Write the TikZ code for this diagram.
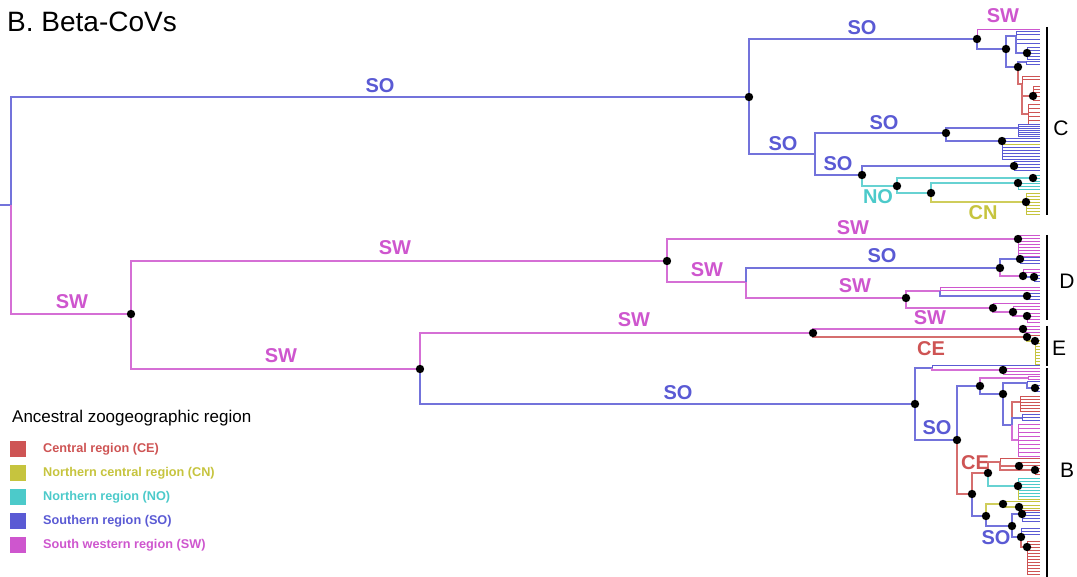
\documentclass[tikz,border=0pt]{standalone}
\usepackage{fontspec}
\setmainfont{Liberation Sans}
\definecolor{cCE}{RGB}{206,84,84}
\definecolor{cCN}{RGB}{198,196,62}
\definecolor{cNO}{RGB}{76,202,202}
\definecolor{cSO}{RGB}{90,90,212}
\definecolor{cSW}{RGB}{206,86,206}
\tikzset{
  br/.style={line width=1.2pt},
  lf/.style={line width=.6pt},
  lab/.style={font=\fontsize{20}{20}\selectfont\bfseries,inner sep=0pt},
  clade/.style={font=\fontsize{21}{21}\selectfont,inner sep=0pt},
  key/.style={minimum size=16pt,inner sep=0pt},
}
\begin{document}
\begin{tikzpicture}[x=1pt,y=-1pt]
  \useasboundingbox (0,0) rectangle (1077,577);
  \node[anchor=west,inner sep=0pt,font=\fontsize{28}{28}\selectfont] (title) at (7,22) {B. Beta-CoVs};
  \foreach \n/\x/\y in {
    r0/0/205, r/11/205, a/749/97, b/131/314,
    c1/977/39, c2/1006/49, c3/1016/36, c4/1027/53, c5/1018/67, c6/1026/62,
    c7/1022/84, c8/1033/96, c9/1028/114, c10/815/154, c11/946/133, c12/1018/128,
    c13/1002/141, c14/862/175, c15/1014/166, c16/897/186, c17/1033/178,
    c18/931/193, c19/1018/183, c20/1026/202,
    d1/667/261, d2/1018/239, d3/746/282, d4/1000/268, d5/1020/259, d6/1023/276,
    d7/1034/277, d8/906/298, d9/940/291, d10/1027/296, d11/993/308,
    d12/1013/312, d13/1027/316,
    e0/420/369, e1/813/333, e2/1023/329, e3/1027/337, e4/1035/341,
    f1/915/404, f2/932/368, f3/1003/370, f4/957/440, f5/980/386, f6/1028/378,
    f7/1003/394, f8/1027/383, f9/1035/388, f10/1012/425, f11/1020/402,
    f12/1022/418, f13/1018/440, f14/972/494, f15/988/473, f16/1000/462,
    f17/1019/466, f18/1035/470, f19/1018/486, f20/986/516, f21/1003/504,
    f22/1019/507, f23/1012/526, f24/1022/514, f25/1021/537, f26/1027/547}
    \coordinate (\n) at (\x,\y);
  \foreach \p/\col/\ys in {
    c1/cSW/{29}, c3/cSO/{31,34,39,43}, c4/cSO/{47,50,53,56,59}, c6/cSO/{61,64},
    c7/cCE/{76,79}, c8/cCE/{86,89,92,96,100}, c9/cCE/{104,108,112,116,120,124},
    c12/cSO/{124,126,128,130,132,134,136}, c13/cSO/{138,141,147,150,153,156,159},
    c13/cCN/{144}, c15/cSO/{161,164,167,170}, c17/cNO/{175,178,181},
    c19/cNO/{183,186,189}, c20/cCN/{193,196,199,202,205,208,211,214},
    d2/cSW/{235,238,241,244,247,250,253,256}, d5/cSO/{257,260,263},
    d6/cSW/{269,272}, d7/cSO/{275,278,281}, d9/cSW/{287,290},
    d10/cSO/{293,296,299}, d11/cSW/{303}, d12/cSW/{306,309},
    d13/cSW/{313,316,319,322},
    e2/cSW/{326,329,332}, e3/cCE/{335}, e4/cCN/{340,343,346,349,352,355,358,361,364},
    f2/cSO/{365}, f3/cSW/{368,371,374}, f6/cSW/{376,379}, f8/cSO/{381},
    f9/cSO/{385,388,391}, f11/cCE/{396,399,402,405,408,411}, f12/cSO/{414,417,420},
    f13/cSW/{424,428,432,436,440,444,448,452,456}, f16/cCE/{458}, f17/cCE/{462,465},
    f18/cCE/{468,471,474}, f19/cNO/{478,481,484,487,490,493,496}, f19/cCN/{499},
    f21/cCN/{501}, f22/cCN/{505,508}, f22/cCE/{510}, f24/cSO/{512,515,518,521},
    f25/cSO/{528,531,534},
    f26/cCE/{541,544,547,550,553,556,559,562,565,568,571,574}}
  {
    \foreach \y in \ys {
      \coordinate (tip) at (1040,\y);
      \draw[lf,\col] (\p) |- (tip);
    }
  }
  \draw[br,cSO!85] (r0) -- (r);
  \foreach \p/\c/\col in {
    r/a/cSO, r/b/cSW, a/c1/cSO, a/c10/cSO, c1/c2/cSO, c2/c3/cSO, c3/c4/cSO,
    c2/c5/cSO, c5/c6/cSO, c5/c7/cCE, c7/c8/cCE, c7/c9/cCE, c10/c11/cSO,
    c10/c14/cSO, c11/c12/cSO, c11/c13/cSO, c14/c15/cSO, c14/c16/cNO,
    c16/c17/cNO, c16/c18/cNO, c18/c19/cNO, c18/c20/cCN,
    b/d1/cSW, d1/d2/cSW, d1/d3/cSW, d3/d4/cSO, d4/d5/cSO, d4/d6/cSW,
    d6/d7/cSO, d3/d8/cSW, d8/d9/cSW, d9/d10/cSO, d8/d11/cSW, d11/d12/cSW,
    d12/d13/cSW,
    b/e0/cSW, e0/e1/cSW, e1/e2/cSW, e1/e3/cCE, e3/e4/cCN,
    e0/f1/cSO, f1/f2/cSO, f2/f3/cSW, f1/f4/cSO, f4/f5/cSO, f5/f6/cSW,
    f5/f7/cSO, f7/f8/cSO, f8/f9/cSO, f7/f10/cSO, f10/f11/cCE, f10/f12/cSO,
    f10/f13/cSW, f4/f14/cCE, f14/f15/cCE, f15/f16/cCE, f16/f17/cCE,
    f16/f18/cCE, f15/f19/cNO, f14/f20/cSO, f20/f21/cCN, f21/f22/cCN,
    f20/f23/cSO, f23/f24/cSO, f23/f25/cSO, f25/f26/cCE}
    \draw[br,\col!85] (\p) |- (\c);
  \foreach \n in {a,b,c1,c2,c4,c5,c8,c11,c13,c14,c15,c16,c17,c18,c19,c20,
    d1,d2,d4,d5,d6,d7,d8,d10,d11,d12,d13,e0,e1,e2,e3,e4,
    f1,f3,f4,f5,f7,f9,f14,f15,f17,f18,f19,f20,f21,f22,f23,f24,f25,f26}
    \fill (\n) circle (4.2pt);
  \foreach \x/\y/\t/\col [count=\i] in {
    380/86/SO/cSO, 862/28/SO/cSO, 1003/16/SW/cSW, 783/144/SO/cSO,
    884/123/SO/cSO, 838/164/SO/cSO, 878/197/NO/cNO, 983/213/CN/cCN,
    72/302/SW/cSW, 395/248/SW/cSW, 281/356/SW/cSW, 853/228/SW/cSW,
    707/270/SW/cSW, 882/256/SO/cSO, 855/286/SW/cSW, 930/318/SW/cSW,
    634/320/SW/cSW, 931/349/CE/cCE, 678/393/SO/cSO, 937/428/SO/cSO,
    975/463/CE/cCE, 996/538/SO/cSO}
    \node[lab,text=\col] (lab\i) at (\x,\y) {\t};
  \foreach \n/\ya/\yb/\xl/\yl in {C/27/215/1061/128, D/235/320/1067/281,
    E/326/366/1059/348, B/368/577/1067/470} {
    \coordinate (\n top) at (1047,\ya);
    \coordinate (\n bot) at (1047,\yb);
    \draw[line width=1.3pt] (\n top) -- (\n bot);
    \node[clade] (clade\n) at (\xl,\yl) {\n};
  }
  \node[anchor=west,inner sep=0pt,font=\fontsize{17}{17}\selectfont] (legtitle) at (12,418) {Ancestral zoogeographic region};
  \foreach \t/\col [count=\i] in {Central region (CE)/cCE, Northern central region (CN)/cCN,
    Northern region (NO)/cNO, Southern region (SO)/cSO, South western region (SW)/cSW} {
    \node[key,fill=\col] (key\i) at (18,425+24*\i) {};
    \node[anchor=west,inner sep=0pt,text=\col,font=\fontsize{12.7}{12.7}\selectfont\bfseries] (txt\i) at (43,425+24*\i) {\t};
  }
\end{tikzpicture}
\end{document}
